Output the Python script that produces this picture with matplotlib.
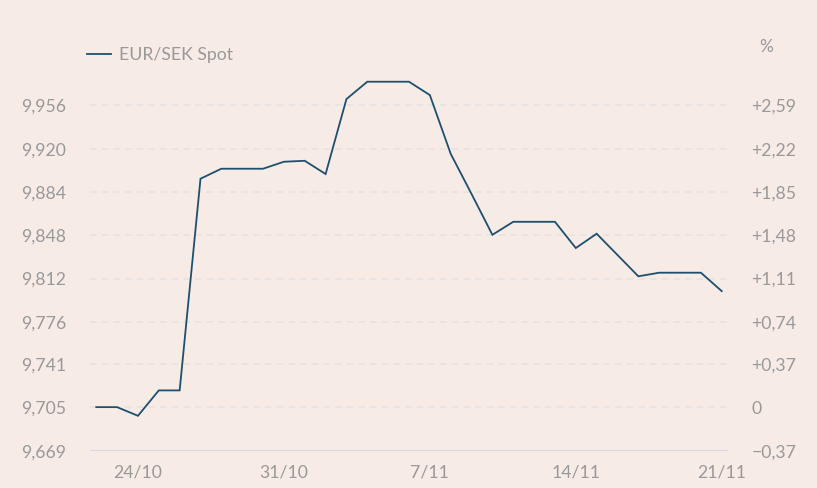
import matplotlib
matplotlib.use("Agg")
import matplotlib.pyplot as plt
import matplotlib.dates as mdates
import numpy as np
import pandas as pd

# ---- data ----
dates = pd.date_range("2023-10-22", "2023-11-21", freq="D")
eursek = [9.7052, 9.7052, 9.6980, 9.7191, 9.7191, 9.8950, 9.9033, 9.9033, 9.9033,
          9.9091, 9.9099, 9.8989, 9.9612, 9.9756, 9.9756, 9.9756, 9.9645, 9.9157,
          9.8823, 9.8484, 9.8592, 9.8592, 9.8592, 9.8374, 9.8493, 9.8316, 9.8139,
          9.8169, 9.8169, 9.8169, 9.8016]
left_ticks = [9.669, 9.705, 9.741, 9.776, 9.812, 9.848, 9.884, 9.920, 9.956]
left_labels = ["9,669", "9,705", "9,741", "9,776", "9,812", "9,848", "9,884", "9,920", "9,956"]
right_labels = ["\u22120,37", "0", "+0,37", "+0,74", "+1,11", "+1,48", "+1,85", "+2,22", "+2,59"]
xtick_dates = ["2023-10-24", "2023-10-31", "2023-11-07", "2023-11-14", "2023-11-21"]
xtick_labels = ["24/10", "31/10", "7/11", "14/11", "21/11"]
series_name = "EUR/SEK Spot"

bg = "#f7ebe6"
line_c = "#1d4f6e"
txt_c = "#999999"

plt.rcParams['font.family'] = ['Lato', 'DejaVu Sans']

W, H = 817, 488
fig = plt.figure(figsize=(W / 100, H / 100), dpi=100, facecolor=bg)
ax = fig.add_axes([90 / W, (H - 450.7) / H, (728 - 90) / W, (450.7 - 62) / H])
ax.set_facecolor(bg)

x = mdates.date2num(dates)
ln, = ax.plot(x, eursek, color=line_c, lw=1.3, solid_joinstyle="miter")

ax.set_xlim(x[0] - 0.3, x[-1] + 0.3)
ax.set_ylim(left_ticks[0], left_ticks[0] + (450.7 - 62) * (left_ticks[-1] - left_ticks[0]) / (450.7 - 105.3))

for t in left_ticks[1:]:
    ax.axhline(t, color="#e7e3e1", lw=1.2, ls=(0, (4, 3)), zorder=0)
ax.axhline(left_ticks[0], color="#d5d9e2", lw=1.5, zorder=0)

for s in ax.spines.values():
    s.set_visible(False)

fs = 12.7
ax.set_yticks(left_ticks)
ax.set_yticklabels(left_labels)
ax.tick_params(axis="y", length=0, pad=17, labelsize=fs, labelcolor=txt_c)

ax.set_xticks(mdates.date2num(pd.to_datetime(xtick_dates)))
ax.set_xticklabels(xtick_labels)
ax.tick_params(axis="x", length=0, pad=10, labelsize=fs, labelcolor=txt_c)

ax2 = ax.twinx()
ax2.set_ylim(ax.get_ylim())
ax2.set_yticks(left_ticks)
ax2.set_yticklabels(right_labels)
ax2.tick_params(axis="y", length=0, pad=17, labelsize=fs, labelcolor=txt_c)
for s in ax2.spines.values():
    s.set_visible(False)

fig.text(766 / W, (H - 47) / H, "%", color=txt_c, fontsize=12.5, ha="center", va="center")

leg = ax.legend([ln], [series_name], loc="upper left",
                bbox_to_anchor=(-0.03, 1.0 + (62 - 31) / (450.7 - 62)),
                frameon=False, fontsize=fs, handlelength=1.35, handletextpad=0.5)
for t in leg.get_texts():
    t.set_color(txt_c)

fig.savefig("out.png", dpi=100, facecolor=bg)
